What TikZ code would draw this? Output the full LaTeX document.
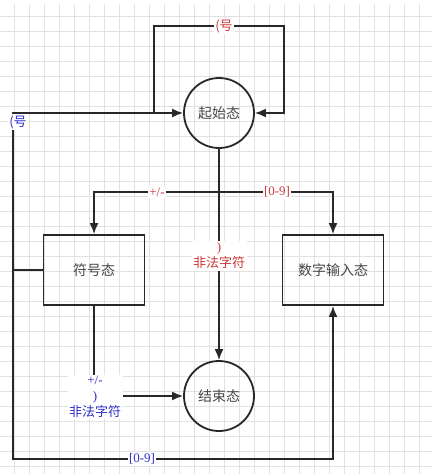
\documentclass[tikz,border=0pt]{standalone}
\usepackage{fontspec}
\setmainfont{Liberation Serif}
\newfontfamily\cjk{Noto Sans CJK SC}
\usepackage{xcolor}
\usetikzlibrary{arrows.meta}

\definecolor{linegray}{RGB}{40,40,40}
\definecolor{textgray}{RGB}{70,70,70}
\definecolor{gridgray}{RGB}{225,225,225}
\definecolor{lblred}{RGB}{205,55,55}
\definecolor{lblblue}{RGB}{45,45,200}

\begin{document}
\begin{tikzpicture}[x=1pt,y=-1pt,
  state/.style={draw=linegray,line width=1.8pt,circle,minimum size=70pt,inner sep=0pt,
    text=textgray,font=\cjk\fontsize{14}{16}\selectfont},
  box/.style={draw=linegray,line width=1.8pt,minimum width=101pt,minimum height=70pt,inner sep=0pt,
    text=textgray,font=\cjk\fontsize{14}{16}\selectfont},
  edge/.style={draw=linegray,line width=1.8pt,-{Latex[length=11pt,width=9pt]}},
  redlbl/.style={fill=white,text=lblred,inner sep=1.5pt,align=center,font=\fontsize{13}{16}\selectfont},
  bluelbl/.style={fill=white,text=lblblue,inner sep=1.5pt,align=center,font=\fontsize{13}{16}\selectfont}]

\useasboundingbox (0,0) rectangle (432,474);
\fill[white] (0,0) rectangle (432,474);

% background grid
\foreach \gx in {14,29,...,434} \draw[gridgray,line width=0.7pt] (\gx,4) -- (\gx,474);
\foreach \gy in {16,31,...,474} \draw[gridgray,line width=0.7pt] (0,\gy) -- (432,\gy);

\node[state] (start) at (219,113){起始态};
\node[state] (end) at (219,396){结束态};
\node[box] (sign) at (94,270){符号态};
\node[box] (digit) at (333,270){数字输入态};

\coordinate (join) at (154,113);
\coordinate (topL) at (154,26);
\coordinate (topR) at (284,26);
\coordinate (fork) at (219,192);
\coordinate (leftTop) at (13,113);
\coordinate (leftMid) at (13,270);
\coordinate (leftBot) at (13,459);

% start state
\draw[edge] (join) -- (topL) -- (topR) |- (start.east);
\draw[edge] (start.south) -- (fork) -| (sign.north);
\draw[edge] (fork) -| (digit.north);
\draw[edge] (start) -- (end);

% sign state
\draw[edge] (sign.west) -- (leftMid) -- (leftTop) -- (start.west);
\draw[edge] (leftMid) -- (leftBot) -| (digit.south);
\draw[edge] (sign.south) |- (end.west);

\node[redlbl] (l1) at (224,26){\cjk(号};
\node[redlbl] (l2) at (157,192){+/-};
\node[redlbl] (l3) at (277,192){[0-9]};
\node[redlbl] (l4) at (219,256){)\\\cjk 非法字符};
\node[bluelbl,anchor=north] (l5) at (18,114){\cjk(号};
\node[bluelbl] (l6) at (142,459){[0-9]};
\node[bluelbl] (l7) at (95,397){+/-\\)\\\cjk 非法字符};

\end{tikzpicture}
\end{document}
